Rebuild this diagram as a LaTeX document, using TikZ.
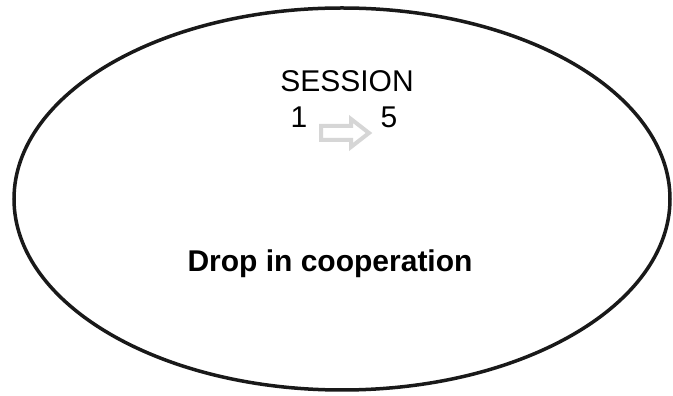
\documentclass[tikz,border=0pt]{standalone}
\usepackage{fontspec}
\setmainfont{Liberation Sans}
\definecolor{arrowgray}{HTML}{D6D6D6}
\begin{document}
\begin{tikzpicture}[x=1pt,y=1pt]
\useasboundingbox (0,0) rectangle (673,396);
\draw[line width=3.5pt,black!90] (342,197) ellipse (328 and 191);
\node (session) at (347,304) [anchor=base,inner sep=0pt,font={\fontsize{30}{32}\selectfont}] {SESSION};
\node (one) at (299,268) [anchor=base,inner sep=0pt,font={\fontsize{30}{32}\selectfont}] {1};
\node (five) at (389,268) [anchor=base,inner sep=0pt,font={\fontsize{30}{32}\selectfont}] {5};
\draw[arrowgray,line width=4pt,fill=white,line join=miter] (321,256) -- (351,256) -- (351,249) -- (369,263) -- (351,277) -- (351,270) -- (321,270) -- cycle;
\node (drop) at (330,124) [anchor=base,inner sep=0pt,font={\fontsize{30}{32}\selectfont\bfseries}] {Drop in cooperation};
\end{tikzpicture}
\end{document}
